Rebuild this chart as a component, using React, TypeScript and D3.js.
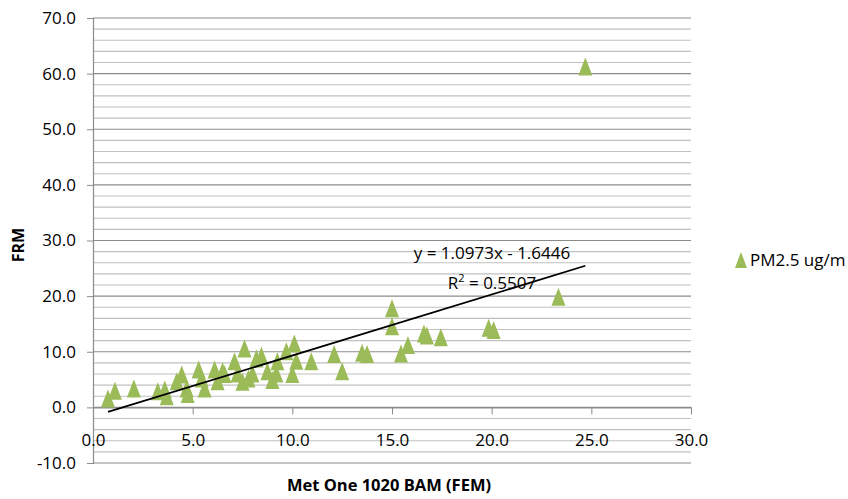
import * as d3 from "d3";
import React, { useEffect, useRef } from "react";

// BAM (FEM) readings, x axis
const bamValues = [
  0.75, 1.1, 2.05, 3.25, 3.6, 3.7, 4.2, 4.45, 4.7, 4.75, 5.3, 5.45, 5.6, 6.1, 6.25, 6.5, 6.6,
  7.1, 7.25, 7.5, 7.6, 7.8, 8.0, 8.2, 8.45, 8.75, 9.0, 9.2, 9.25, 9.7, 10.0, 10.1, 10.2, 10.95,
  12.1, 12.5, 13.5, 13.75, 15.0, 15.0, 15.45, 15.8, 16.6, 16.75, 17.45, 19.85, 20.1, 23.35, 24.7,
];
// FRM readings, y axis
const frmValues = [
  1.6, 3.0, 3.4, 2.9, 3.2, 2.0, 4.7, 5.9, 3.4, 2.4, 6.8, 5.2, 3.4, 6.8, 4.7, 6.5, 6.0,
  8.3, 6.1, 4.6, 10.6, 5.2, 6.1, 8.8, 9.3, 6.5, 4.9, 6.1, 8.3, 10.1, 6.0, 11.5, 8.4, 8.3,
  9.6, 6.5, 9.8, 9.6, 17.8, 14.6, 9.7, 11.2, 13.3, 12.9, 12.6, 14.3, 13.9, 19.9, 61.3,
];
const xTicks = [0, 5, 10, 15, 20, 25, 30];
const yTicks = [-10, 0, 10, 20, 30, 40, 50, 60, 70];
const slope = 1.0973;
const intercept = -1.6446;
const equationText = "y = 1.0973x - 1.6446";
const rSquaredValue = "0.5507";
const seriesName = "PM2.5 ug/m";

const App = () => {
  const svgRef = useRef(null);

  useEffect(() => {
    const svg = d3.select(svgRef.current);
    svg.selectAll("*").remove();

    const font = "'Open Sans', sans-serif";
    const green = "#9bbb59";
    const fmt = (d) => Number(d).toFixed(1); // plain hyphen for negatives, like Excel
    const x = d3.scaleLinear().domain([0, 30]).range([93, 691]);
    const y = d3.scaleLinear().domain([-10, 70]).range([463, 18]);

    // gridlines, minor every 2, major every 10
    const minor = d3.range(-10, 70.1, 2).filter((v) => v % 10 !== 0);
    svg.append("g")
      .selectAll("line")
      .data(minor)
      .enter()
      .append("line")
      .attr("x1", x(0))
      .attr("x2", x(30))
      .attr("y1", (d) => y(d))
      .attr("y2", (d) => y(d))
      .attr("stroke", "#c0c0c0")
      .attr("stroke-width", 1.2);
    svg.append("g")
      .selectAll("line")
      .data(yTicks)
      .enter()
      .append("line")
      .attr("x1", x(0))
      .attr("x2", x(30))
      .attr("y1", (d) => y(d))
      .attr("y2", (d) => y(d))
      .attr("stroke", "#8c8c8c")
      .attr("stroke-width", 1.2);

    // y axis
    const yAxis = svg.append("g")
      .attr("transform", `translate(${x(0)},0)`)
      .call(d3.axisLeft(y).tickValues(yTicks).tickFormat(fmt).tickSize(6).tickPadding(11));
    yAxis.select(".domain").attr("stroke", "#8c8c8c").attr("stroke-width", 1.2);
    yAxis.selectAll(".tick line").attr("stroke", "#8c8c8c");
    yAxis.selectAll("text")
      .attr("font-family", font)
      .attr("font-size", 17)
      .attr("fill", "#000");

    // x axis crosses at y = 0
    const xAxis = svg.append("g")
      .attr("transform", `translate(0,${y(0)})`)
      .call(d3.axisBottom(x).tickValues(xTicks).tickFormat(fmt).tickSize(7).tickSizeOuter(0));
    xAxis.select(".domain").attr("stroke", "#8c8c8c").attr("stroke-width", 1.2);
    xAxis.selectAll(".tick line").attr("stroke", "#8c8c8c");
    xAxis.selectAll("text")
      .attr("font-family", font)
      .attr("font-size", 17)
      .attr("fill", "#000")
      .attr("y", 33)
      .attr("dy", "0.35em");

    // points
    const tri = "M0,-9L7,9L-7,9Z";
    svg.append("g")
      .selectAll("path")
      .data(bamValues.map((v, i) => [v, frmValues[i]]))
      .enter()
      .append("path")
      .attr("d", tri)
      .attr("transform", (d) => `translate(${x(d[0])},${y(d[1])})`)
      .attr("fill", green);

    // linear trendline
    const [x0, x1] = d3.extent(bamValues);
    svg.append("line")
      .attr("x1", x(x0))
      .attr("y1", y(slope * x0 + intercept))
      .attr("x2", x(x1))
      .attr("y2", y(slope * x1 + intercept))
      .attr("stroke", "#000")
      .attr("stroke-width", 1.8);

    svg.append("text")
      .attr("x", 492)
      .attr("y", 259)
      .attr("text-anchor", "middle")
      .attr("font-family", font)
      .attr("font-size", 17)
      .text(equationText);
    const r2 = svg.append("text")
      .attr("x", 492)
      .attr("y", 289)
      .attr("text-anchor", "middle")
      .attr("font-family", font)
      .attr("font-size", 17);
    r2.append("tspan").text("R");
    r2.append("tspan").attr("font-size", 11).attr("dy", -7).text("2");
    r2.append("tspan").attr("dy", 7).text(" = " + rSquaredValue);

    // axis titles
    svg.append("text")
      .attr("x", 389)
      .attr("y", 491)
      .attr("text-anchor", "middle")
      .attr("font-family", font)
      .attr("font-weight", "bold")
      .attr("font-size", 16.5)
      .text("Met One 1020 BAM (FEM)");
    svg.append("text")
      .attr("transform", "translate(24,245) rotate(-90)")
      .attr("text-anchor", "middle")
      .attr("font-family", font)
      .attr("font-weight", "bold")
      .attr("font-size", 16)
      .text("FRM");

    // legend
    svg.append("path")
      .attr("d", "M0,-8L6,8L-6,8Z")
      .attr("transform", "translate(741,260)")
      .attr("fill", green);
    svg.append("text")
      .attr("x", 750)
      .attr("y", 266)
      .attr("font-family", font)
      .attr("font-size", 17)
      .text(seriesName);
  }, []);

  return (
    <svg
      ref={svgRef}
      width="848"
      height="499"
      style={{ position: "fixed", left: 0, top: 0, background: "#fff" }}
    ></svg>
  );
};

export default App;
